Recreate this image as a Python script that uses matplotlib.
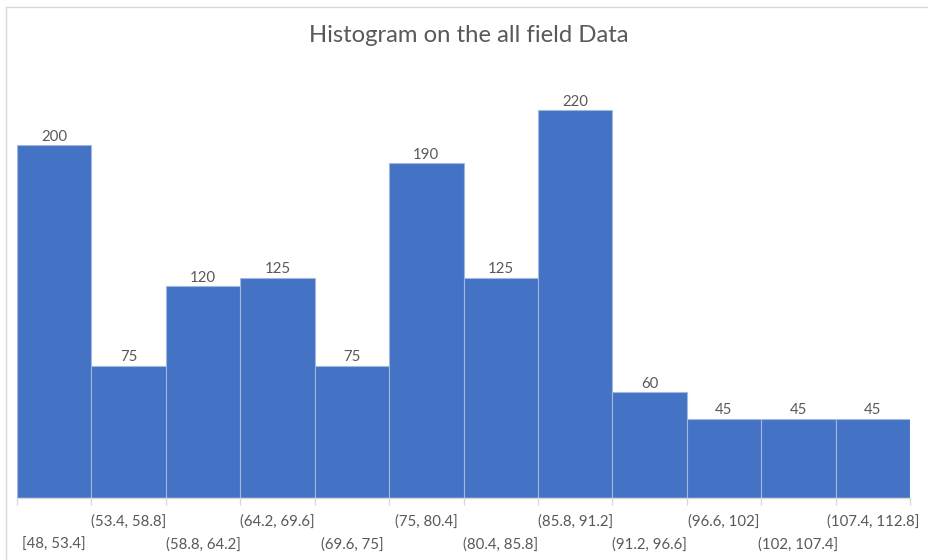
import matplotlib
matplotlib.use("Agg")
import matplotlib.pyplot as plt
from matplotlib.lines import Line2D

# Bin edges and counts of the histogram
bin_edges = [48, 53.4, 58.8, 64.2, 69.6, 75, 80.4, 85.8, 91.2, 96.6, 102, 107.4, 112.8]
counts = [200, 75, 120, 125, 75, 190, 125, 220, 60, 45, 45, 45]
bin_labels = [
    "[48, 53.4]", "(53.4, 58.8]", "(58.8, 64.2]", "(64.2, 69.6]",
    "(69.6, 75]", "(75, 80.4]", "(80.4, 85.8]", "(85.8, 91.2]",
    "(91.2, 96.6]", "(96.6, 102]", "(102, 107.4]", "(107.4, 112.8]",
]
title = "Histogram on the all field Data"

BAR = "#4472C4"
TEXT = "#595959"
GRID = "#D9D9D9"

plt.rcParams["font.family"] = ["Lato", "DejaVu Sans"]

W, H = 929, 560
fig = plt.figure(figsize=(W / 100, H / 100), dpi=100)
fig.patch.set_facecolor("white")

# plot area in pixels: x 17..910, y 80..498 (from top)
ax = fig.add_axes([17 / W, (H - 498) / H, (910 - 17) / W, (498 - 80) / H])
ax.set_facecolor("white")

lefts = bin_edges[:-1]
widths = [b - a for a, b in zip(bin_edges[:-1], bin_edges[1:])]
ax.bar(lefts, counts, width=widths, align="edge", color=BAR,
       edgecolor="#A3B8E0", linewidth=0.8, zorder=2)

ax.set_xlim(bin_edges[0], bin_edges[-1])
ax.set_ylim(0, 237)

for s in ["top", "right", "left"]:
    ax.spines[s].set_visible(False)
ax.spines["bottom"].set_color(GRID)
ax.spines["bottom"].set_linewidth(1.0)
ax.set_yticks([])

ax.set_xticks(bin_edges)
ax.set_xticklabels([])
ax.tick_params(axis="x", direction="out", length=5, width=1.0, color=GRID)

# value labels above bars
for x0, w, c in zip(lefts, widths, counts):
    ax.annotate(str(c), (x0 + w / 2, c), xytext=(0, 1), textcoords="offset points",
                ha="center", va="bottom", fontsize=10.8, color=TEXT)

# staggered bin labels under the axis
for i, (x0, w, lab) in enumerate(zip(lefts, widths, bin_labels)):
    dy = -33.8 if i % 2 == 0 else -17.3
    ax.annotate(lab, (x0 + w / 2, 0), xycoords=("data", "axes fraction"),
                xytext=(0, dy), textcoords="offset points",
                ha="center", va="center", fontsize=10.8, color=TEXT,
                annotation_clip=False)

fig.text(469 / W, 1 - 36 / H, title, ha="center", va="center",
         fontsize=17.2, color=TEXT)

# chart frame (left and top edges)
fig.add_artist(Line2D([6 / W, 6 / W], [0, 1 - 7 / H], transform=fig.transFigure,
                      color=GRID, linewidth=1.0))
fig.add_artist(Line2D([6 / W, 1], [1 - 7 / H, 1 - 7 / H], transform=fig.transFigure,
                      color=GRID, linewidth=1.0))

fig.savefig("out.png", dpi=100)
